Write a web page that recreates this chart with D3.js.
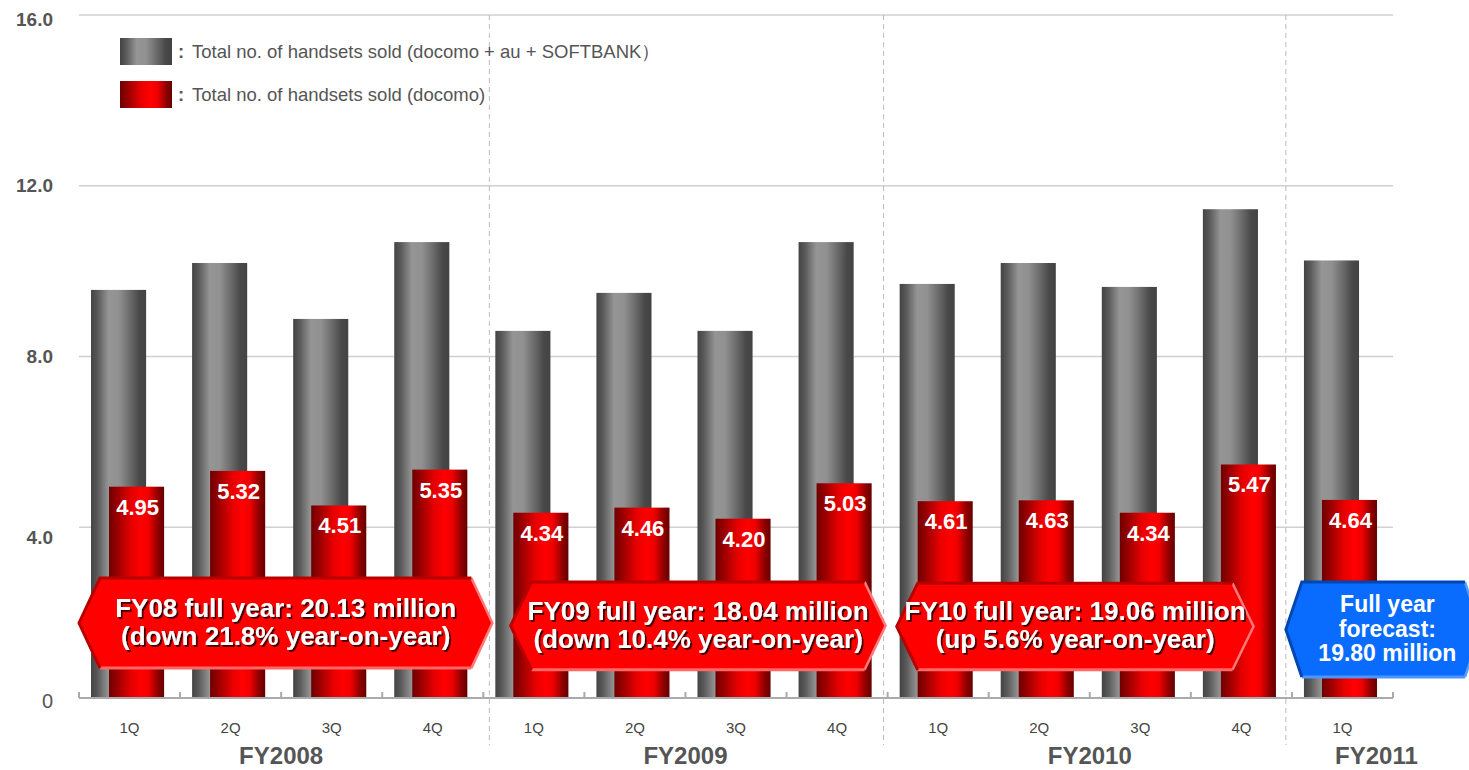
<!DOCTYPE html>
<html>
<head>
<meta charset="utf-8">
<script src="https://cdn.jsdelivr.net/npm/d3@7"></script>
<style>
  html, body { margin: 0; padding: 0; background: #fff; }
  svg { display: block; font-family: "Liberation Sans", Arial, sans-serif; }
</style>
</head>
<body>
<svg id="chart" width="1469" height="770"></svg>
<script>
// ---------------- data ----------------
const quarters = ["1Q","2Q","3Q","4Q","1Q","2Q","3Q","4Q","1Q","2Q","3Q","4Q","1Q"];
const fiscalYears = ["FY2008","FY2009","FY2010","FY2011"];
const yearFirstIndex = [0, 4, 8, 12];
const yearLastIndex = [3, 7, 11, 12];
const totalSold = [9.56, 10.19, 8.88, 10.68, 8.60, 9.49, 8.60, 10.68, 9.70, 10.19, 9.63, 11.45, 10.25];
const docomoSold = [4.95, 5.32, 4.51, 5.35, 4.34, 4.46, 4.20, 5.03, 4.61, 4.63, 4.34, 5.47, 4.64];
const yTicks = [0, 4, 8, 12, 16];
const legendLabels = [
  "Total no. of handsets sold (docomo + au + SOFTBANK\uFF09",
  "Total no. of handsets sold (docomo)"
];
// year dividers (category-index units)
const dividerPos = [4.06, 7.96, 11.94];
// annotation callouts (positions in category-index units / value units)
const annoText = [
  ["FY08 full year: 20.13 million", "(down 21.8% year-on-year)"],
  ["FY09 full year: 18.04 million", "(down 10.4% year-on-year)"],
  ["FY10 full year: 19.06 million", "(up 5.6% year-on-year)"],
  ["Full year", "forecast:", "19.80 million"]
];
const annoStart = [0.0, 4.27, 8.09, 11.94];
const annoEnd   = [4.09, 7.98, 11.62, 13.87];
const annoTop   = [2.81, 2.72, 2.69, 2.72];
const annoBottom= [0.70, 0.66, 0.66, 0.49];
const annoKind  = ["red", "red", "red", "blue"];

// ---------------- setup ----------------
const svg = d3.select("#chart");
const left = 79, right = 1393, yZero = 698, yTop = 15;
const x = d3.scaleBand().domain(d3.range(quarters.length)).range([left, right]).padding(0);
const xi = d3.scaleLinear().domain([0, quarters.length]).range([left, right]);
const y = d3.scaleLinear().domain([0, 16]).range([yZero, yTop]);
const bw = x.bandwidth();

const defs = svg.append("defs");
function hGrad(id, stops) {
  const g = defs.append("linearGradient").attr("id", id)
    .attr("x1", "0%").attr("x2", "100%").attr("y1", "0%").attr("y2", "0%");
  stops.forEach(s => g.append("stop").attr("offset", s[0]).attr("stop-color", s[1]));
}
hGrad("grayGrad", [["0%", "#434343"], ["12%", "#5a5a5a"], ["32%", "#959595"], ["50%", "#919191"], ["70%", "#6c6c6c"], ["88%", "#484848"], ["100%", "#434343"]]);
hGrad("redGrad", [["0%", "#6e0000"], ["15%", "#990000"], ["40%", "#e60000"], ["58%", "#ff0000"], ["72%", "#f00000"], ["90%", "#8a0000"], ["100%", "#660000"]]);

const shadow = defs.append("filter").attr("id", "txtShadow")
  .attr("x", "-10%").attr("y", "-30%").attr("width", "120%").attr("height", "160%");
shadow.append("feDropShadow").attr("dx", 1.8).attr("dy", 1.8).attr("stdDeviation", 0.4)
  .attr("flood-color", "#2a0000").attr("flood-opacity", 0.9);

// ---------------- gridlines ----------------
svg.append("g").selectAll("line").data(yTicks.filter(d => d > 0)).join("line")
  .attr("x1", left).attr("x2", right)
  .attr("y1", d => y(d)).attr("y2", d => y(d))
  .attr("stroke", "#d0d0d0").attr("stroke-width", 1.5);

// ---------------- y axis labels ----------------
const yLabelOffset = {0: 5, 4: 12, 8: 1, 12: 1, 16: 6};
svg.append("g").selectAll("text").data(yTicks).join("text")
  .attr("x", 53).attr("y", d => y(d) + yLabelOffset[d])
  .attr("text-anchor", "end").attr("dominant-baseline", "middle")
  .attr("font-size", d => d === 0 ? 20 : 19)
  .attr("font-weight", d => d === 0 ? "normal" : "bold")
  .attr("fill", "#555")
  .text(d => d === 0 ? "0" : d.toFixed(1));

// ---------------- dividers ----------------
svg.append("g").selectAll("line").data(dividerPos).join("line")
  .attr("x1", d => xi(d)).attr("x2", d => xi(d))
  .attr("y1", yTop).attr("y2", 745)
  .attr("stroke", "#bbb").attr("stroke-width", 1).attr("stroke-dasharray", "5,4");

// ---------------- bars ----------------
svg.append("g").selectAll("rect").data(totalSold).join("rect")
  .attr("x", (d, i) => x(i) + bw * 0.119)
  .attr("width", bw * 0.545)
  .attr("y", d => y(d))
  .attr("height", d => yZero - y(d))
  .attr("fill", "url(#grayGrad)");

svg.append("g").selectAll("rect").data(docomoSold).join("rect")
  .attr("x", (d, i) => x(i) + bw * 0.297)
  .attr("width", bw * 0.545)
  .attr("y", d => y(d))
  .attr("height", d => yZero - y(d))
  .attr("fill", "url(#redGrad)");

svg.append("g").selectAll("text").data(docomoSold).join("text")
  .attr("x", (d, i) => x(i) + bw * 0.297 + bw * 0.545 / 2 + 1)
  .attr("y", d => y(d) + 28)
  .attr("text-anchor", "middle")
  .attr("font-size", 22).attr("font-weight", "bold")
  .attr("fill", "#fff")
  .text(d => d.toFixed(2));

// ---------------- x axis ----------------
svg.append("line")
  .attr("x1", left).attr("x2", right).attr("y1", yZero).attr("y2", yZero)
  .attr("stroke", "#aaa").attr("stroke-width", 2);
svg.append("g").selectAll("line").data(d3.range(quarters.length + 1)).join("line")
  .attr("x1", d => xi(d)).attr("x2", d => xi(d))
  .attr("y1", yZero).attr("y2", yZero - 6)
  .attr("stroke", "#aaa").attr("stroke-width", 2);

svg.append("g").selectAll("text").data(quarters).join("text")
  .attr("x", (d, i) => x(i) + bw / 2)
  .attr("y", 733)
  .attr("text-anchor", "middle")
  .attr("font-size", 15).attr("fill", "#444")
  .text(d => d);

svg.append("g").selectAll("text").data(fiscalYears).join("text")
  .attr("x", (d, i) => i === 3 ? (x(yearFirstIndex[i]) + bw / 2 + 34) : (x(yearFirstIndex[i]) + x(yearLastIndex[i]) + bw) / 2)
  .attr("y", 764)
  .attr("text-anchor", "middle")
  .attr("font-size", 24).attr("font-weight", "bold").attr("fill", "#555")
  .text(d => d);

// ---------------- legend ----------------
const legendFill = ["url(#grayGrad)", "url(#redGrad)"];
const legendY = [38, 81];
const lg = svg.append("g");
legendLabels.forEach((t, i) => {
  lg.append("rect").attr("x", 120).attr("y", legendY[i]).attr("width", 52).attr("height", 27)
    .attr("fill", legendFill[i]);
  lg.append("text").attr("x", 178).attr("y", legendY[i] + 20)
    .attr("font-size", 18.5).attr("font-weight", "bold").attr("fill", "#555").text(":");
  lg.append("text").attr("x", 192).attr("y", legendY[i] + 20)
    .attr("font-size", 18.5).attr("fill", "#555").text(t);
});

// ---------------- annotations ----------------
const ag = svg.append("g");
annoText.forEach((lines, k) => {
  const x0 = xi(annoStart[k]), x1 = xi(annoEnd[k]);
  const t = y(annoTop[k]), b = y(annoBottom[k]);
  const m = (t + b) / 2;
  const inset = k === 3 ? 16 : 21;
  const pts = [[x0, m], [x0 + inset, t], [x1 - inset, t], [x1, m], [x1 - inset, b], [x0 + inset, b]];
  const red = annoKind[k] === "red";
  ag.append("polygon").attr("points", pts.map(p => p.join(",")).join(" "))
    .attr("fill", red ? "#ff0000" : "#0a6cff");
  // bevel edges
  ag.append("polyline").attr("points", [pts[4], pts[3], pts[2]].map(p => p.join(",")).join(" "))
    .attr("fill", "none").attr("stroke", red ? "#ff7a7a" : "#5a9cff").attr("stroke-width", 2.5);
  ag.append("polyline").attr("points", [pts[5], [x1 - inset, b]].map(p => p.join(",")).join(" "))
    .attr("fill", "none").attr("stroke", red ? "#ff6666" : "#4f95ff").attr("stroke-width", 3);
  ag.append("polyline").attr("points", [pts[5], pts[0], pts[1], pts[2]].map(p => p.join(",")).join(" "))
    .attr("fill", "none").attr("stroke", red ? "#b80000" : "#0047b3").attr("stroke-width", 3);

  const cx = (x0 + x1) / 2 + (k === 3 ? 4 : 0);
  if (red) {
    lines.forEach((ln, j) => {
      ag.append("text").attr("x", cx).attr("y", m - 6 + j * 28)
        .attr("text-anchor", "middle").attr("font-size", 26).attr("font-weight", "bold")
        .attr("fill", "#fff").attr("filter", "url(#txtShadow)").text(ln);
    });
  } else {
    lines.forEach((ln, j) => {
      ag.append("text").attr("x", cx).attr("y", m - 17 + j * 24.5)
        .attr("text-anchor", "middle").attr("font-size", 23).attr("font-weight", "bold")
        .attr("fill", "#fff").text(ln);
    });
  }
});
</script>
</body>
</html>
